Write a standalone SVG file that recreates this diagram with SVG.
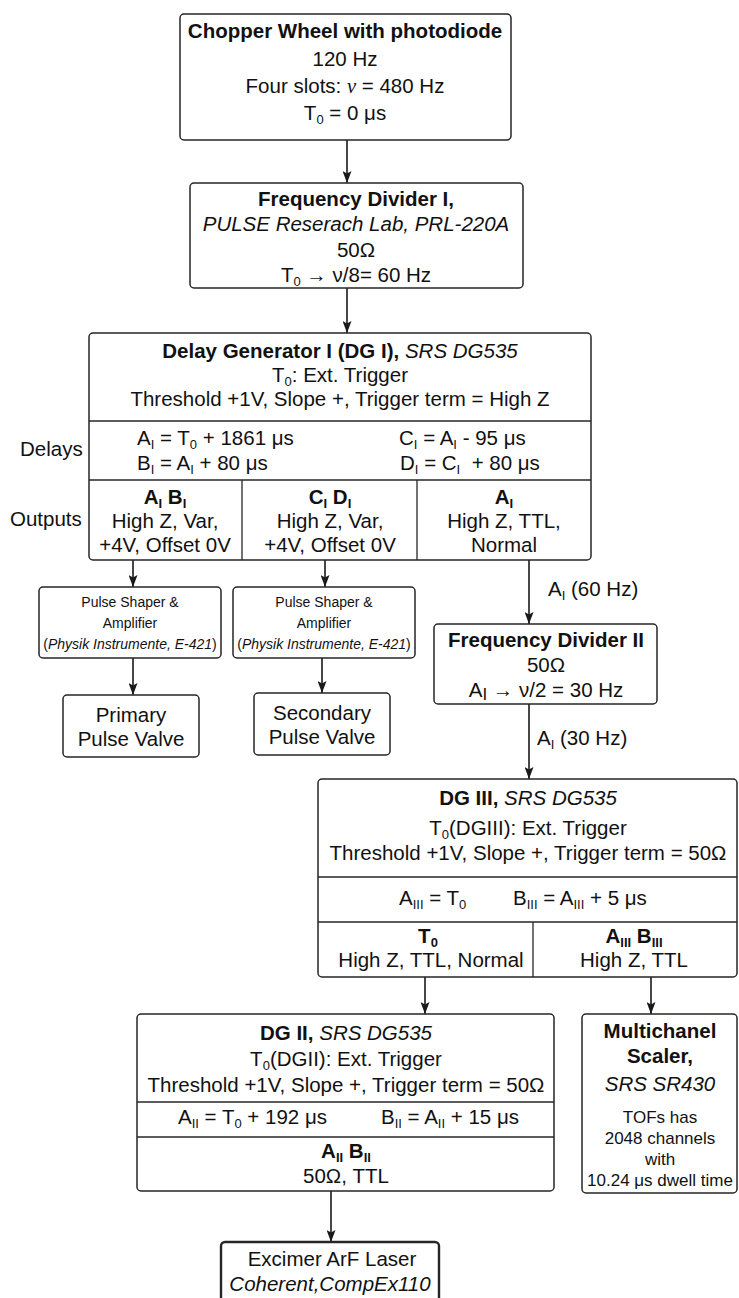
<svg xmlns="http://www.w3.org/2000/svg" width="739" height="1298" viewBox="0 0 739 1298">
<defs>
<style>
text{font-family:"Liberation Sans",Arial,Helvetica,sans-serif;font-size:20.5px;fill:#111}
.c{text-anchor:middle}
.b{font-weight:bold}
.i{font-style:italic}
.s{font-size:13px}
.sm{font-size:14px}
.m{font-size:17px}
.box{fill:#fff;stroke:#262626;stroke-width:1.5}
.thick{stroke-width:2.4}
.sep{stroke:#262626;stroke-width:1.3;fill:none}
.conn{stroke:#1a1a1a;stroke-width:1.6;fill:none;marker-end:url(#arr)}
</style>
<marker id="arr" viewBox="0 0 12 9" refX="12" refY="4.5" markerWidth="12" markerHeight="9" markerUnits="userSpaceOnUse" orient="auto"><path d="M0,0 L12,4.5 L0,9 L2.5,4.5 z" fill="#1a1a1a"/></marker>
</defs>
<rect width="739" height="1298" fill="#fff"/>

<g id="connectors">
<line class="conn" x1="347" y1="140" x2="347" y2="183"/>
<line class="conn" x1="347" y1="288" x2="347" y2="333"/>
<line class="conn" x1="133" y1="560" x2="133" y2="587"/>
<line class="conn" x1="325" y1="560" x2="325" y2="587"/>
<line class="conn" x1="133" y1="658" x2="133" y2="695"/>
<line class="conn" x1="322" y1="658" x2="322" y2="693"/>
<line class="conn" x1="529" y1="560" x2="529" y2="624"/>
<text x="548" y="596">A<tspan class="s" dy="4">I</tspan><tspan dy="-4"> (60 Hz)</tspan></text>
<line class="conn" x1="529" y1="704" x2="529" y2="779"/>
<text x="537" y="745">A<tspan class="s" dy="4">I</tspan><tspan dy="-4"> (30 Hz)</tspan></text>
<line class="conn" x1="425" y1="977" x2="425" y2="1014"/>
<line class="conn" x1="651" y1="977" x2="651" y2="1014"/>
<line class="conn" x1="331" y1="1191" x2="331" y2="1242"/>
</g>

<g id="chopper">
<rect class="box" x="180" y="14" width="331" height="126" rx="4"/>
<text class="c b" x="345" y="38">Chopper Wheel with photodiode</text>
<text class="c" x="345" y="66">120 Hz</text>
<text class="c" x="345" y="93">Four slots: <tspan font-family="Liberation Serif, serif" font-style="italic">ν</tspan> = 480 Hz</text>
<text class="c" x="345" y="120">T<tspan class="s" dy="4">0</tspan><tspan dy="-4"> = 0 μs</tspan></text>
</g>

<g id="freq-divider-1">
<rect class="box" x="190" y="183" width="333" height="105" rx="4"/>
<text class="c b" x="356" y="206">Frequency Divider I,</text>
<text class="c i" x="356" y="231">PULSE Reserach Lab, PRL-220A</text>
<text class="c" x="356" y="257">50Ω</text>
<text class="c" x="356" y="282">T<tspan class="s" dy="4">0</tspan><tspan dy="-4"> → ν/8= 60 Hz</tspan></text>
</g>

<g id="delay-generator-1">
<rect class="box" x="89" y="333" width="502" height="227" rx="4"/>
<text class="c" x="340" y="358"><tspan class="b">Delay Generator I (DG I), </tspan><tspan class="i">SRS DG535</tspan></text>
<text class="c" x="340" y="382">T<tspan class="s" dy="4">0</tspan><tspan dy="-4">: Ext. Trigger</tspan></text>
<text class="c" x="340" y="406">Threshold +1V, Slope +, Trigger term = High Z</text>
<line class="sep" x1="89" y1="421" x2="591" y2="421"/>
<text x="137" y="445">A<tspan class="s" dy="4">I</tspan><tspan dy="-4"> = T</tspan><tspan class="s" dy="4">0</tspan><tspan dy="-4"> + 1861 μs</tspan></text>
<text x="137" y="470">B<tspan class="s" dy="4">I</tspan><tspan dy="-4"> = A</tspan><tspan class="s" dy="4">I</tspan><tspan dy="-4"> + 80 μs</tspan></text>
<text x="399" y="445">C<tspan class="s" dy="4">I</tspan><tspan dy="-4"> = A</tspan><tspan class="s" dy="4">I</tspan><tspan dy="-4"> - 95 μs</tspan></text>
<text x="400" y="470">D<tspan class="s" dy="4">I</tspan><tspan dy="-4"> = C</tspan><tspan class="s" dy="4">I</tspan><tspan dy="-4">&#160; + 80 μs</tspan></text>
<line class="sep" x1="89" y1="480" x2="591" y2="480"/>
<line class="sep" x1="242" y1="480" x2="242" y2="560"/>
<line class="sep" x1="417" y1="480" x2="417" y2="560"/>
<text class="c b" x="165" y="504">A<tspan class="s" dy="4">I</tspan><tspan dy="-4"> B</tspan><tspan class="s" dy="4">I</tspan></text>
<text class="c" x="165" y="528">High Z, Var,</text>
<text class="c" x="165" y="552">+4V, Offset 0V</text>
<text class="c b" x="330" y="504">C<tspan class="s" dy="4">I</tspan><tspan dy="-4"> D</tspan><tspan class="s" dy="4">I</tspan></text>
<text class="c" x="330" y="528">High Z, Var,</text>
<text class="c" x="330" y="552">+4V, Offset 0V</text>
<text class="c b" x="504" y="504">A<tspan class="s" dy="4">I</tspan></text>
<text class="c" x="504" y="528">High Z, TTL,</text>
<text class="c" x="504" y="552">Normal</text>
<text x="20" y="456">Delays</text>
<text x="10" y="526">Outputs</text>
</g>

<g id="pulse-shaper-1">
<rect class="box" x="39" y="587" width="182" height="71" rx="4"/>
<text class="c sm" x="130" y="607">Pulse Shaper &amp;</text>
<text class="c sm" x="130" y="628">Amplifier</text>
<text class="c sm" x="130" y="649">(<tspan class="i">Physik Instrumente, E-421</tspan>)</text>
</g>

<g id="pulse-shaper-2">
<rect class="box" x="233" y="587" width="182" height="71" rx="4"/>
<text class="c sm" x="324" y="607">Pulse Shaper &amp;</text>
<text class="c sm" x="324" y="628">Amplifier</text>
<text class="c sm" x="324" y="649">(<tspan class="i">Physik Instrumente, E-421</tspan>)</text>
</g>

<g id="primary-valve">
<rect class="box" x="63" y="695" width="136" height="62" rx="4"/>
<text class="c" x="131" y="722">Primary</text>
<text class="c" x="131" y="746">Pulse Valve</text>
</g>

<g id="secondary-valve">
<rect class="box" x="254" y="693" width="136" height="62" rx="4"/>
<text class="c" x="322" y="720">Secondary</text>
<text class="c" x="322" y="744">Pulse Valve</text>
</g>

<g id="freq-divider-2">
<rect class="box" x="434" y="624" width="223" height="80" rx="4"/>
<text class="c b" x="546" y="647">Frequency Divider II</text>
<text class="c" x="546" y="672">50Ω</text>
<text class="c" x="546" y="697">A<tspan font-size="17" dy="3">I</tspan><tspan dy="-3"> → ν/2 = 30 Hz</tspan></text>
</g>

<g id="delay-generator-3">
<rect class="box" x="318" y="779" width="419" height="198" rx="4"/>
<text class="c" x="528" y="805"><tspan class="b">DG III, </tspan><tspan class="i">SRS DG535</tspan></text>
<text class="c" x="528" y="835">T<tspan class="s" dy="4">0</tspan><tspan dy="-4">(DGIII): Ext. Trigger</tspan></text>
<text class="c" x="528" y="860">Threshold +1V, Slope +, Trigger term = 50Ω</text>
<line class="sep" x1="318" y1="877" x2="737" y2="877"/>
<text x="399" y="905">A<tspan class="s" dy="4">III</tspan><tspan dy="-4"> = T</tspan><tspan class="s" dy="4">0</tspan></text>
<text x="513" y="905">B<tspan class="s" dy="4">III</tspan><tspan dy="-4"> = A</tspan><tspan class="s" dy="4">III</tspan><tspan dy="-4"> + 5 μs</tspan></text>
<line class="sep" x1="318" y1="922" x2="737" y2="922"/>
<line class="sep" x1="533" y1="922" x2="533" y2="977"/>
<text class="c b" x="428" y="943">T<tspan class="s" dy="4">0</tspan></text>
<text class="c" x="431" y="967">High Z, TTL, Normal</text>
<text class="c b" x="634" y="943">A<tspan class="s" dy="4">III</tspan><tspan dy="-4"> B</tspan><tspan class="s" dy="4">III</tspan></text>
<text class="c" x="634" y="967">High Z, TTL</text>
</g>

<g id="delay-generator-2">
<rect class="box" x="137" y="1014" width="417" height="177" rx="4"/>
<text class="c" x="346" y="1040"><tspan class="b">DG II, </tspan><tspan class="i">SRS DG535</tspan></text>
<text class="c" x="346" y="1066">T<tspan class="s" dy="4">0</tspan><tspan dy="-4">(DGII): Ext. Trigger</tspan></text>
<text class="c" x="346" y="1092">Threshold +1V, Slope +, Trigger term = 50Ω</text>
<line class="sep" x1="137" y1="1102" x2="554" y2="1102"/>
<text x="178" y="1124">A<tspan class="s" dy="4">II</tspan><tspan dy="-4"> = T</tspan><tspan class="s" dy="4">0</tspan><tspan dy="-4"> + 192 μs</tspan></text>
<text x="381" y="1124">B<tspan class="s" dy="4">II</tspan><tspan dy="-4"> = A</tspan><tspan class="s" dy="4">II</tspan><tspan dy="-4"> + 15 μs</tspan></text>
<line class="sep" x1="137" y1="1137" x2="554" y2="1137"/>
<text class="c b" x="346" y="1158">A<tspan class="s" dy="4">II</tspan><tspan dy="-4"> B</tspan><tspan class="s" dy="4">II</tspan></text>
<text class="c" x="346" y="1183">50Ω, TTL</text>
</g>

<g id="multichannel-scaler">
<rect class="box" x="582" y="1014" width="155" height="179" rx="4"/>
<text class="c b" x="660" y="1038">Multichanel</text>
<text class="c b" x="660" y="1063">Scaler,</text>
<text class="c i" x="660" y="1091">SRS SR430</text>
<text class="c m" x="660" y="1123">TOFs has</text>
<text class="c m" x="660" y="1144">2048 channels</text>
<text class="c m" x="660" y="1165">with</text>
<text class="c m" x="660" y="1186">10.24 μs dwell time</text>
</g>

<g id="excimer-laser">
<rect class="box thick" x="221" y="1242" width="218" height="70" rx="4"/>
<text class="c" x="332" y="1266">Excimer ArF Laser</text>
<text class="c i" x="330" y="1291">Coherent,CompEx110</text>
</g>
</svg>
